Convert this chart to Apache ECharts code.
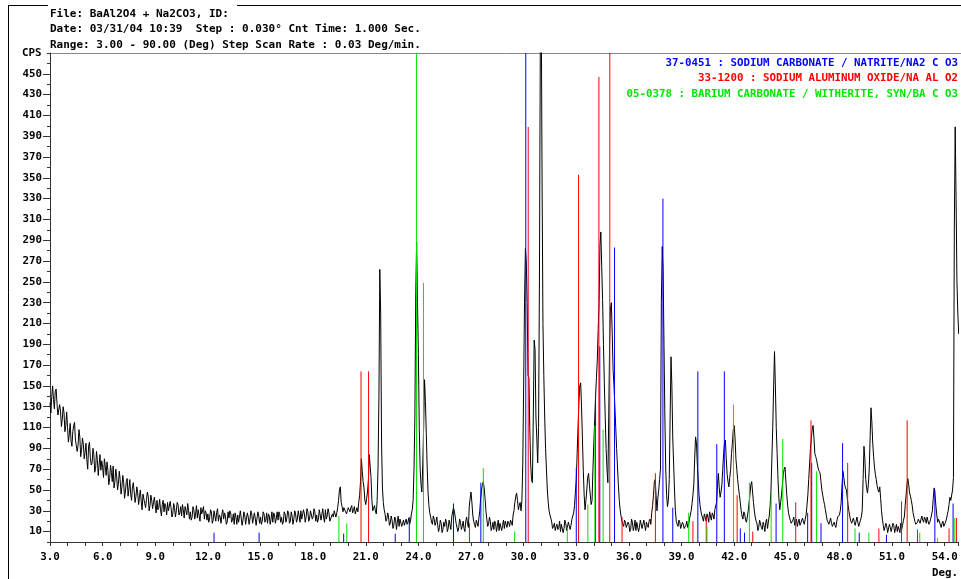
<!DOCTYPE html>
<html><head><meta charset="utf-8">
<script src="https://cdn.jsdelivr.net/npm/echarts@6/dist/echarts.min.js"></script>
<style>html,body{margin:0;padding:0;background:#fff}#c{width:961px;height:579px}</style>
</head><body><div id="c"></div>
<script>
const headerLines = [
  'File: BaAl2O4 + Na2CO3, ID:',
  'Date: 03/31/04 10:39  Step : 0.030\u00b0 Cnt Time: 1.000 Sec.',
  'Range: 3.00 - 90.00 (Deg) Step Scan Rate : 0.03 Deg/min.'
];
const legendLines = [
  '37-0451 : SODIUM CARBONATE / NATRITE/NA2 C O3',
  '33-1200 : SODIUM ALUMINUM OXIDE/NA AL O2',
  '05-0378 : BARIUM CARBONATE / WITHERITE, SYN/BA C O3'
];
const yAxisTitle = 'CPS';
const xAxisTitle = 'Deg.';

// readings at 2-theta = 3.00, 3.10, 3.20 ... (deg)
const scanStart = 3.0, scanStep = 0.1;
const cpsOnStep = [
 134,140,137,145,133,122,126,118,124,112,
 110,104,97,106,115,99,93,101,89,94,
 86,79,92,81,76,84,71,79,74,69,
 72,80,64,69,61,67,73,58,63,56,
 60,53,57,49,61,51,46,53,48,44,
 47,43,39,46,37,41,44,35,40,38,
 35,40,33,31,36,29,34,38,30,33,
 27,33,30,36,28,25,31,34,26,30,
 29,24,31,27,23,30,33,26,22,28,
 27,23,29,21,25,28,20,24,27,22,
 25,19,23,28,21,17,24,26,20,23,
 21,26,18,24,22,27,19,23,17,25,
 24,20,27,21,18,25,22,19,26,23,
 21,26,24,19,27,23,28,20,25,22,
 27,22,25,30,21,27,24,29,23,31,
 24,29,26,22,30,27,23,31,25,28,
 22,27,30,24,33,50,38,29,34,27,
 33,29,35,31,27,33,38,58,68,52,
 36,48,84,62,30,35,27,72,262,96,
 38,27,22,24,18,21,16,22,19,15,
 21,18,16,22,19,17,27,40,120,288,
 180,70,48,110,135,72,35,24,17,22,
 19,16,14,18,12,15,19,13,17,24,
 33,24,17,14,19,15,13,20,18,34,
 48,26,17,21,15,30,50,58,42,22,
 17,20,14,12,18,15,11,19,16,13,
 17,20,15,19,26,38,47,31,38,40,
 150,282,230,158,75,57,194,120,76,250,
 520,210,120,70,38,26,19,15,11,17,
 14,10,16,13,18,12,20,16,23,35,
 60,110,150,130,69,31,50,66,45,40,
 95,140,175,230,298,233,153,90,57,190,
 230,165,130,90,55,31,20,15,19,13,
 17,12,19,15,11,18,14,20,12,16,
 19,14,22,28,45,60,30,50,70,284,
 190,70,34,60,178,100,50,20,15,19,
 14,17,12,20,16,26,37,55,101,75,
 45,30,23,27,20,24,29,21,26,31,
 38,66,43,55,85,98,65,53,70,95,
 112,80,60,45,30,22,27,19,30,45,
 58,38,24,18,14,20,12,16,19,13,
 25,50,110,183,110,60,31,45,65,72,
 45,28,21,17,24,19,15,22,18,23,
 17,26,45,75,100,112,85,79,70,66,
 50,40,31,21,17,23,15,19,14,24,
 26,38,68,55,50,35,24,18,23,16,
 24,15,21,30,92,60,47,70,129,95,
 72,60,50,53,30,16,12,15,10,14,
 11,16,13,10,14,18,16,24,45,61,
 47,40,28,20,16,22,18,25,19,22,
 24,17,22,30,52,35,19,22,14,20,
 16,22,30,43,40,62,399,250,200
];
// readings at 2-theta = 3.05, 3.15, 3.25 ... (deg)
const cpsHalfStep = [
 124,150,128,147,122,132,111,130,106,125,
 96,114,92,112,98,87,108,82,100,80,
 95,70,96,74,90,67,87,64,84,78,
 62,73,77,55,74,58,52,70,50,68,
 46,64,42,58,44,60,40,57,38,53,
 36,50,31,47,33,48,30,45,32,43,
 28,31,41,25,40,37,26,30,39,24,
 37,24,38,26,34,36,23,30,37,22,
 21,34,22,35,31,20,27,34,30,21,
 19,31,18,30,20,32,26,18,31,28,
 17,29,30,19,27,28,17,19,30,16,
 29,17,28,17,30,18,28,16,29,18,
 17,29,19,28,27,17,29,28,18,29,
 29,19,17,29,19,30,18,29,17,30,
 19,30,19,22,31,19,32,20,30,22,
 32,20,19,31,21,32,19,22,32,20,
 25,24,27,28,40,53,34,33,29,30,
 31,33,28,34,30,29,45,80,58,40,
 42,60,85,40,33,30,40,140,220,52,
 31,20,28,16,25,13,24,12,25,22,
 15,21,19,17,23,20,31,70,240,230,
 110,55,75,156,105,48,28,19,25,16,
 24,10,21,9,19,22,10,21,12,29,
 30,18,10,22,12,20,10,24,14,42,
 38,20,14,18,23,42,55,52,30,15,
 24,11,19,20,10,21,18,11,21,20,
 14,18,21,16,30,44,40,35,30,75,
 230,270,160,110,60,120,185,100,110,480,
 350,160,90,50,30,23,13,18,15,12,
 20,17,9,21,11,19,12,22,28,48,
 85,135,153,100,45,40,62,55,36,70,
 118,158,205,285,265,190,120,70,120,225,
 200,150,110,72,40,25,17,21,14,19,
 10,22,11,21,19,10,21,13,21,11,
 16,20,17,35,58,45,42,60,230,260,
 120,45,40,120,150,75,30,17,21,13,
 19,13,16,14,22,30,45,80,95,60,
 36,26,20,24,27,19,25,28,22,35,
 55,52,48,70,95,80,58,62,85,108,
 100,70,52,38,25,29,21,24,38,55,
 48,30,20,11,21,14,19,10,22,19,
 35,80,150,150,85,42,38,55,70,58,
 35,24,18,21,16,22,19,16,21,19,
 22,35,60,90,108,100,82,74,68,58,
 45,36,26,19,20,18,17,16,20,23,
 30,55,62,52,42,29,20,21,19,20,
 19,18,24,60,80,52,55,100,115,82,
 65,54,48,42,22,11,18,9,17,10,
 18,9,17,15,9,12,21,35,55,55,
 44,35,24,17,19,20,22,21,24,18,
 20,19,26,42,45,26,22,17,18,15,
 19,26,36,40,50,300,330,220
];

// reference patterns (stick positions in deg, heights in CPS)
const natritePos = [12.35,14.92,19.74,22.68,23.48,26.0,27.56,30.12,33.0,34.1,34.34,35.18,37.94,38.5,39.93,41.01,41.44,42.35,42.59,44.39,46.19,46.42,46.95,48.18,49.13,50.68,53.44,54.48];
const natriteInt = [9,9,8,8,24,37,57,500,71,141,188,283,330,33,164,94,164,13,9,37,28,76,18,95,9,7,50,37];
const naAlOxPos = [20.73,21.16,26.91,30.26,33.13,34.29,34.91,35.61,37.51,39.65,40.41,42.17,43.06,45.51,46.38,48.47,50.25,51.54,51.86,52.45,54.25,54.67];
const naAlOxInt = [164,164,18,399,353,447,500,24,66,20,24,45,10,38,117,76,13,39,117,12,13,23];
const witheritePos = [19.47,19.92,23.89,24.29,27.7,29.49,32.49,33.66,34.06,34.53,39.41,40.45,41.96,42.87,44.11,44.77,46.7,48.89,49.68,52.58,53.59,54.58];
const witheriteInt = [25,18,500,249,71,10,14,36,112,108,28,15,132,57,47,99,68,13,9,9,4,23];

const xMin = 3, xMax = 54.76, xStep = 1;
const yMin = 0, yMax = 470, yStep = 10;
const yLabelMin = 10, yLabelMax = 450, yLabelStep = 20;

const colBlue = '#0000ff', colRed = '#ff0000', colGreen = '#00e600';
const FONT = 'DejaVu Sans Mono';
const fontStr = 'bold 10.8px "DejaVu Sans Mono"';
const headFont = 'bold 11px "DejaVu Sans Mono"';

const curve = [];
cpsOnStep.forEach((v, i) => {
  curve.push([+(scanStart + i * scanStep).toFixed(2), v]);
  if (i < cpsHalfStep.length) curve.push([+(scanStart + (i + 0.5) * scanStep).toFixed(3), cpsHalfStep[i]]);
});

function stickSeries(pos, inten, color) {
  return {
    type: 'custom', xAxisIndex: 0, yAxisIndex: 0, clip: true, z: 5,
    silent: true,
    data: pos.map((p, i) => [p, inten[i]]),
    renderItem: function (params, api) {
      const t = api.coord([api.value(0), api.value(1)]);
      const b = api.coord([api.value(0), 0]);
      return { type: 'line', shape: { x1: b[0], y1: b[1], x2: t[0], y2: t[1] },
               style: { stroke: color, lineWidth: 1 } };
    }
  };
}

const chart = echarts.init(document.getElementById('c'), null, { renderer: 'canvas' });
const gLeft = 50, gTop = 53, gW = 910, gH = 489;
const pxPerY = gH / (yMax - yMin);
chart.setOption({
  animation: false,
  backgroundColor: '#fff',
  grid: [
    { left: gLeft, top: gTop, width: gW, height: gH },
    { left: gLeft, top: gTop + (yMax - yLabelMax) * pxPerY, width: gW, height: (yLabelMax - yLabelMin) * pxPerY }
  ],
  xAxis: [
    { type: 'value', gridIndex: 0, min: xMin, max: xMax, interval: xStep,
      axisLine: { show: true, lineStyle: { color: '#333', width: 1 } },
      axisTick: { show: true, length: 4, lineStyle: { color: '#333' } },
      splitLine: { show: false },
      axisLabel: { show: true, margin: 10, color: '#000', fontFamily: FONT, fontWeight: 'bold', fontSize: 10.8,
        formatter: v => (Math.abs(v / 3 - Math.round(v / 3)) < 1e-6 ? v.toFixed(1) : '') } },
    { type: 'value', gridIndex: 1, min: 0, max: 1, show: false }
  ],
  yAxis: [
    { type: 'value', gridIndex: 0, min: yMin, max: yMax, interval: yStep,
      axisLine: { show: true, lineStyle: { color: '#333', width: 1 } },
      axisTick: { show: true, length: 3, lineStyle: { color: '#333' } },
      splitLine: { show: false }, axisLabel: { show: false } },
    { type: 'value', gridIndex: 1, min: yLabelMin, max: yLabelMax, interval: yLabelStep,
      axisLine: { show: false },
      axisTick: { show: true, length: 7, lineStyle: { color: '#333' } },
      splitLine: { show: false },
      axisLabel: { show: true, margin: 8, color: '#000', fontFamily: FONT, fontWeight: 'bold', fontSize: 10.8,
        verticalAlign: 'middle', padding: [0, 0, 9, 0] } }
  ],
  series: [
    { type: 'line', xAxisIndex: 0, yAxisIndex: 0, data: curve, showSymbol: false, symbol: 'none',
      clip: true, z: 3, silent: true, sampling: null,
      lineStyle: { color: '#000', width: 1 } },
    stickSeries(natritePos, natriteInt, colBlue),
    stickSeries(naAlOxPos, naAlOxInt, colRed),
    stickSeries(witheritePos, witheriteInt, colGreen)
  ],
  graphic: [
    { type: 'line', shape: { x1: 8.5, y1: 5.5, x2: 8.5, y2: 579 }, style: { stroke: '#000', lineWidth: 1 } },
    { type: 'line', shape: { x1: 8, y1: 5.5, x2: 48, y2: 5.5 }, style: { stroke: '#000', lineWidth: 1 } },
    { type: 'line', shape: { x1: 237, y1: 5.5, x2: 961, y2: 5.5 }, style: { stroke: '#000', lineWidth: 1 } },
    { type: 'line', shape: { x1: gLeft, y1: gTop + 0.5, x2: 961, y2: gTop + 0.5 }, style: { stroke: '#888', lineWidth: 1 } },
    { type: 'text', left: 50, top: 9, style: { text: headerLines[0], font: headFont, fill: '#000' } },
    { type: 'text', left: 50, top: 24, style: { text: headerLines[1], font: headFont, fill: '#000' } },
    { type: 'text', left: 50, top: 40, style: { text: headerLines[2], font: headFont, fill: '#000' } },
    { type: 'text', left: 22, top: 48, style: { text: yAxisTitle, font: fontStr, fill: '#000' } },
    { type: 'text', right: 3, top: 568, style: { text: xAxisTitle, font: fontStr, fill: '#000' } },
    { type: 'text', right: 3, top: 58, style: { text: legendLines[0], font: fontStr, fill: colBlue } },
    { type: 'text', right: 3, top: 73, style: { text: legendLines[1], font: fontStr, fill: colRed } },
    { type: 'text', right: 3, top: 89, style: { text: legendLines[2], font: fontStr, fill: colGreen } }
  ]
});
</script>
</body></html>
